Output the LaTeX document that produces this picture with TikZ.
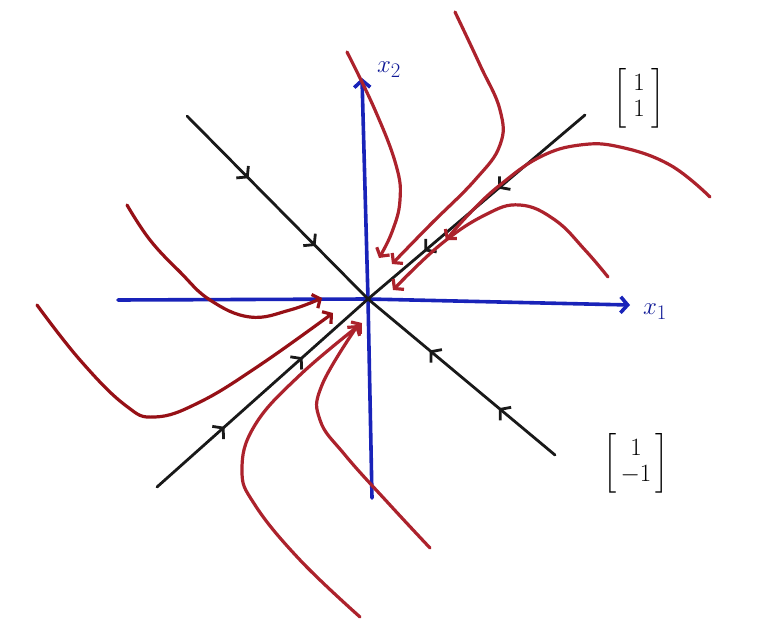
\documentclass[tikz,border=0pt]{standalone}
\usepackage{amsmath}
\usetikzlibrary{arrows.meta,decorations.markings}
\definecolor{axblue}{RGB}{25,35,185}
\definecolor{labblue}{RGB}{15,25,150}
\definecolor{penred}{RGB}{172,34,44}
\definecolor{darkpen}{RGB}{150,16,22}
\definecolor{penblack}{RGB}{25,25,25}
\tikzset{
  axis/.style={draw=axblue,line width=3.6pt,line cap=round,-{Straight Barb[length=7pt,width=16pt]}},
  eig/.style={draw=penblack,line width=2.8pt,line cap=round},
  traj/.style={draw=penred,line width=3.2pt,line cap=round,-{Straight Barb[length=6pt,width=15pt]}},
  trajdark/.style={traj,draw=darkpen},
  twoarr/.style 2 args={postaction={decorate,decoration={markings,
     mark=at position #1 with {\arrow{Straight Barb[length=7pt,width=17pt]}},
     mark=at position #2 with {\arrow{Straight Barb[length=7pt,width=17pt]}}}}},
  lab/.style={inner sep=0pt},
  vec/.style={lab,font=\fontsize{24}{26}\selectfont},
}
\begin{document}
\begin{tikzpicture}[x=1pt,y=-1pt]
\useasboundingbox (0,0) rectangle (781,636);
\coordinate (O) at (368,299);
% axes
\coordinate (xl) at (118,300);
\coordinate (xr) at (630,305);
\coordinate (yb) at (372,498);
\coordinate (yt) at (362,78);
\draw[axis] (xl) -- (O) -- (xr);
\draw[axis] (yb) -- (O) -- (yt);
\node[lab,text=labblue,font=\fontsize{30}{32}\selectfont] (x1) at (655,312) {$x_1$};
\node[lab,text=labblue,font=\fontsize{30}{32}\selectfont] (x2) at (389,70) {$x_2$};
% eigen lines
\coordinate (a1) at (157,487);
\coordinate (a2) at (585,115);
\coordinate (b1) at (187,116);
\coordinate (b2) at (555,455);
\draw[eig,twoarr={0.32}{0.69}] (a1) -- (O);
\draw[eig,twoarr={0.40}{0.74}] (a2) -- (O);
\draw[eig,twoarr={0.34}{0.71}] (b1) -- (O);
\draw[eig,twoarr={0.30}{0.67}] (b2) -- (O);
\node[vec] (v1) at (639,98) {$\left[\;\begin{matrix}1\\1\end{matrix}\;\right]$};
\node[vec] (v2) at (636,463) {$\left[\,\begin{matrix}1\\-1\end{matrix}\,\right]$};
% trajectories
\draw[traj] plot[smooth,tension=0.7] coordinates {(347,52) (375,110) (396,165) (400,200) (392,232) (379,258)};
\draw[traj] plot[smooth,tension=0.7] coordinates {(455,12) (480,65) (500,110) (500,145) (475,180) (430,225) (392,264)};
\draw[traj] plot[smooth,tension=0.7] coordinates {(710,197) (670,165) (620,147) (580,145) (540,157) (500,185) (470,213) (446,240)};
\draw[traj] plot[smooth,tension=0.7] coordinates {(608,277) (585,250) (555,220) (520,205) (485,215) (440,245) (393,290)};
\draw[trajdark] plot[smooth,tension=0.7] coordinates {(127,205) (150,240) (180,272) (210,300) (250,317) (290,310) (322,298)};
\draw[trajdark] plot[smooth,tension=0.7] coordinates {(37,305) (80,360) (125,405) (155,417) (200,402) (260,365) (333,313)};
\draw[traj] plot[smooth,tension=0.7] coordinates {(360,617) (300,560) (255,505) (242,470) (255,425) (300,375) (362,323)};
\draw[traj] plot[smooth,tension=0.7] coordinates {(430,548) (390,505) (345,455) (320,420) (322,385) (358,325)};
\end{tikzpicture}
\end{document}
